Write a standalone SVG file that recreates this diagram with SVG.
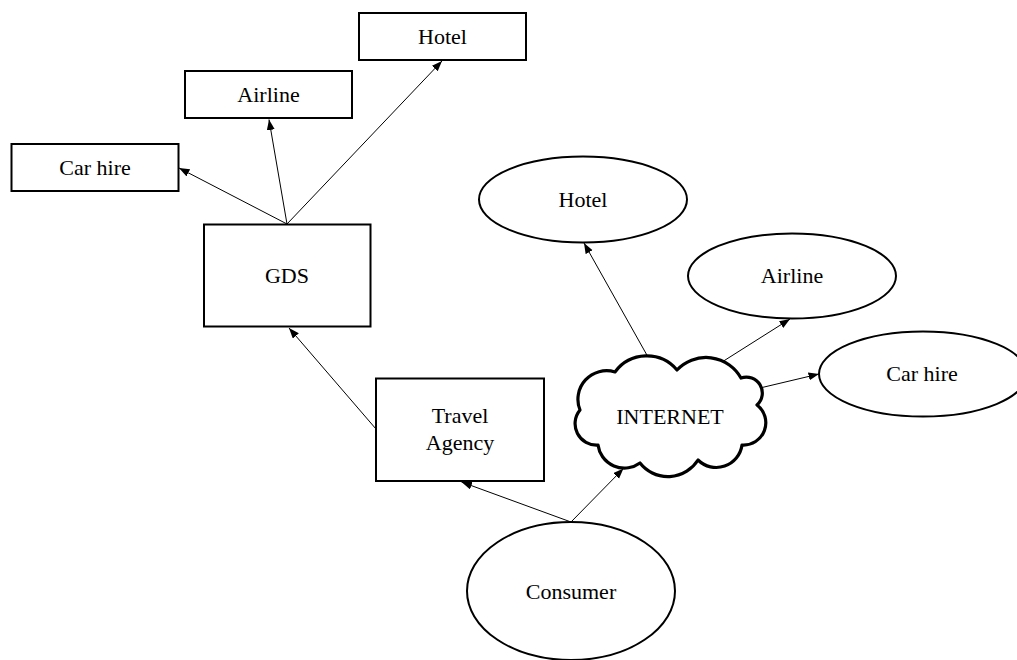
<svg xmlns="http://www.w3.org/2000/svg" width="1017" height="660" viewBox="0 0 1017 660">
  <style>
    .box { fill: #ffffff; stroke: #000000; stroke-width: 2; }
    .ell { fill: #ffffff; stroke: #000000; stroke-width: 2; }
    .cloud { fill: #ffffff; stroke: #000000; stroke-width: 3.2; stroke-linejoin: round; }
    .lbl { font-family: "Liberation Serif", "Times New Roman", serif; font-size: 22px; fill: #000000; text-anchor: middle; }
    .edge { fill: none; stroke: #000000; stroke-width: 1; marker-end: url(#arrow); }
  </style>
  <defs>
    <marker id="arrow" markerUnits="userSpaceOnUse" markerWidth="11" markerHeight="9" refX="10.5" refY="4" orient="auto">
      <path d="M0,0 L10.5,4 L0,8 z" fill="#000000"/>
    </marker>
  </defs>
  <rect width="1017" height="660" fill="#ffffff"/>

  <g id="connectors">
    <line class="edge" x1="287" y1="224" x2="179" y2="168"/>
    <line class="edge" x1="287" y1="224" x2="269" y2="119.5"/>
    <line class="edge" x1="287" y1="224" x2="442" y2="61"/>
    <line class="edge" x1="376" y1="429" x2="289" y2="328"/>
    <line class="edge" x1="571" y1="522" x2="461.5" y2="482"/>
    <line class="edge" x1="571" y1="522" x2="623.5" y2="468.5"/>
    <line class="edge" x1="648" y1="357" x2="584" y2="243"/>
    <line class="edge" x1="722" y1="362" x2="790" y2="319"/>
    <line class="edge" x1="760" y1="388" x2="819" y2="374"/>
  </g>

  <g id="hotel-box">
    <rect class="box" x="359" y="13" width="167" height="47"/>
    <text class="lbl" x="442.5" y="43.5">Hotel</text>
  </g>
  <g id="airline-box">
    <rect class="box" x="185" y="71" width="167" height="47"/>
    <text class="lbl" x="268.5" y="102">Airline</text>
  </g>
  <g id="carhire-box">
    <rect class="box" x="11.5" y="144" width="167" height="47"/>
    <text class="lbl" x="95" y="174.5">Car hire</text>
  </g>
  <g id="gds">
    <rect class="box" x="204" y="224.5" width="166.5" height="102"/>
    <text class="lbl" x="287" y="282.5">GDS</text>
  </g>
  <g id="travel-agency">
    <rect class="box" x="376" y="378.5" width="168" height="102.5"/>
    <text class="lbl" x="460" y="423">Travel</text>
    <text class="lbl" x="460" y="450">Agency</text>
  </g>
  <g id="hotel-ellipse">
    <ellipse class="ell" cx="583" cy="199.5" rx="104" ry="43"/>
    <text class="lbl" x="583" y="207">Hotel</text>
  </g>
  <g id="airline-ellipse">
    <ellipse class="ell" cx="792" cy="276" rx="104" ry="42.5"/>
    <text class="lbl" x="792" y="283">Airline</text>
  </g>
  <g id="carhire-ellipse">
    <ellipse class="ell" cx="923" cy="374" rx="104" ry="42.5"/>
    <text class="lbl" x="922" y="380.5">Car hire</text>
  </g>
  <g id="internet">
    <path class="cloud" d="M615,372 A39.5,39.5 0 0 1 677,370 A40,40 0 0 1 741,378 A16,16 0 0 1 757,405 A22.3,22.3 0 0 1 742,445 A26,26 0 0 1 698,460 A35.5,35.5 0 0 1 640,463 A26.6,26.6 0 0 1 598,445 A21.4,21.4 0 0 1 580,410 A28.6,28.6 0 0 1 615,372 Z"/>
    <text class="lbl" x="670" y="424">INTERNET</text>
  </g>
  <g id="consumer">
    <ellipse class="ell" cx="571" cy="591" rx="104" ry="69"/>
    <text class="lbl" x="571" y="598.5">Consumer</text>
  </g>
</svg>
